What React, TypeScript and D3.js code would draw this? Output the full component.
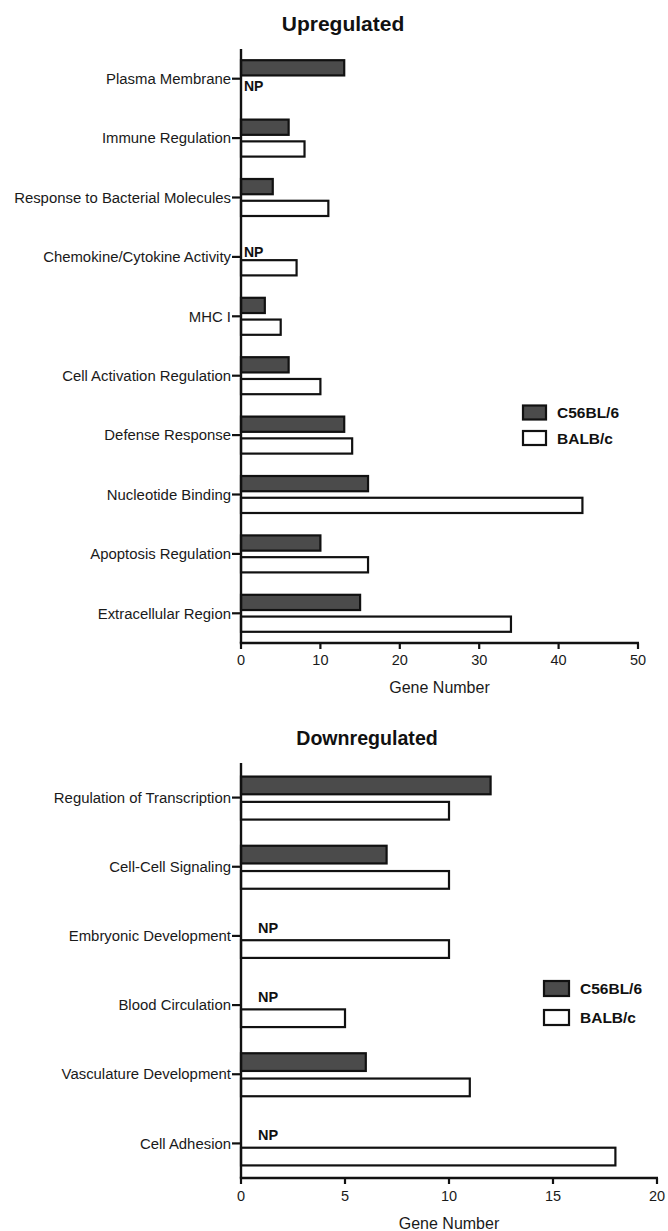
import React from "react";
import * as d3 from "d3";

// ---------- data ----------
const series = ["C56BL/6", "BALB/c"];

const upCategories = [
  "Plasma Membrane",
  "Immune Regulation",
  "Response to Bacterial Molecules",
  "Chemokine/Cytokine Activity",
  "MHC I",
  "Cell Activation Regulation",
  "Defense Response",
  "Nucleotide Binding",
  "Apoptosis Regulation",
  "Extracellular Region",
];
const upC56: (number | null)[] = [13, 6, 4, null, 3, 6, 13, 16, 10, 15];
const upBALB: (number | null)[] = [null, 8, 11, 7, 5, 10, 14, 43, 16, 34];
const upTicks = [0, 10, 20, 30, 40, 50];

const downCategories = [
  "Regulation of Transcription",
  "Cell-Cell Signaling",
  "Embryonic Development",
  "Blood Circulation",
  "Vasculature Development",
  "Cell Adhesion",
];
const downC56: (number | null)[] = [12, 7, null, null, 6, null];
const downBALB: (number | null)[] = [10, 10, 10, 5, 11, 18];
const downTicks = [0, 5, 10, 15, 20];

// ---------- styles ----------
const FONT = "'Liberation Sans', Arial, Helvetica, sans-serif";
const DARK = "#4b4b4b";
const INK = "#111";

type PanelProps = {
  title: string;
  titleX: number;
  titleY: number;
  titleSize: number;
  categories: string[];
  c56: (number | null)[];
  balb: (number | null)[];
  ticks: number[];
  left: number;
  right: number;
  top: number;
  bottom: number;
  subRange: [number, number];
  npOffsets: { dark: [number, number]; white: [number, number] };
  npSize: number;
  legend: { x: number; y: number; w: number; h: number; gap: number; textX: number };
  tickLabelY: number;
  axisTitleY: number;
};

function Panel(p: PanelProps) {
  const x = d3
    .scaleLinear()
    .domain([p.ticks[0], p.ticks[p.ticks.length - 1]])
    .range([p.left, p.right]);
  const y = d3.scaleBand<string>().domain(p.categories).range([p.top, p.bottom]).padding(0);
  const sub = d3.scaleBand<string>().domain(series).range(p.subRange).paddingInner(0.3).paddingOuter(0);
  const values = [p.c56, p.balb];

  return (
    <g>
      <text
        x={p.titleX}
        y={p.titleY}
        textAnchor="middle"
        fontFamily={FONT}
        fontWeight="bold"
        fontSize={p.titleSize}
        fill={INK}
      >
        {p.title}
      </text>

      {/* bars */}
      {p.categories.map((cat, i) => {
        const cy = (y(cat) as number) + y.bandwidth() / 2;
        return (
          <g key={cat}>
            {series.map((s, si) => {
              const v = values[si][i];
              const by = cy + (sub(s) as number);
              if (v == null) {
                const off = si === 0 ? p.npOffsets.dark : p.npOffsets.white;
                return (
                  <text
                    key={s}
                    x={x(0) + off[0]}
                    y={cy + off[1]}
                    fontFamily={FONT}
                    fontWeight="bold"
                    fontSize={p.npSize}
                    fill={INK}
                  >
                    NP
                  </text>
                );
              }
              return (
                <rect
                  key={s}
                  x={x(0)}
                  y={by}
                  width={x(v) - x(0)}
                  height={sub.bandwidth()}
                  fill={si === 0 ? DARK : "#fff"}
                  stroke={INK}
                  strokeWidth={2.2}
                />
              );
            })}
            {/* y tick */}
            <line x1={x(0) - 9} x2={x(0)} y1={cy} y2={cy} stroke={INK} strokeWidth={2.2} />
            <text
              x={x(0) - 10}
              y={cy}
              dy="0.35em"
              textAnchor="end"
              fontFamily={FONT}
              fontSize={14.9}
              fill="#1a1a1a"
            >
              {cat}
            </text>
          </g>
        );
      })}

      {/* axes */}
      <line x1={x(0)} x2={x(0)} y1={p.top} y2={p.bottom} stroke={INK} strokeWidth={2.4} />
      <line x1={x(0) - 1.2} x2={p.right + 1} y1={p.bottom} y2={p.bottom} stroke={INK} strokeWidth={2.4} />
      {p.ticks.map((t) => (
        <g key={t}>
          <line x1={x(t)} x2={x(t)} y1={p.bottom} y2={p.bottom + 6} stroke={INK} strokeWidth={2.2} />
          <text
            x={x(t)}
            y={p.tickLabelY}
            textAnchor="middle"
            fontFamily={FONT}
            fontSize={14.5}
            fill="#1a1a1a"
          >
            {t}
          </text>
        </g>
      ))}
      <text
        x={(p.left + p.right) / 2}
        y={p.axisTitleY}
        textAnchor="middle"
        fontFamily={FONT}
        fontSize={16}
        fill="#1a1a1a"
      >
        Gene Number
      </text>

      {/* legend */}
      {series.map((s, si) => (
        <g key={s}>
          <rect
            x={p.legend.x}
            y={p.legend.y + si * p.legend.gap}
            width={p.legend.w}
            height={p.legend.h}
            fill={si === 0 ? DARK : "#fff"}
            stroke={INK}
            strokeWidth={2.2}
          />
          <text
            x={p.legend.textX}
            y={p.legend.y + si * p.legend.gap + p.legend.h / 2}
            dy="0.36em"
            fontFamily={FONT}
            fontWeight="bold"
            fontSize={15.5}
            fill={INK}
          >
            {s}
          </text>
        </g>
      ))}
    </g>
  );
}

export default function App() {
  return (
    <svg
      width={668}
      height={1231}
      style={{ position: "absolute", left: 0, top: 0, display: "block", background: "#fff" }}
    >
      <rect width={668} height={1231} fill="#fff" />
      <Panel
        title="Upregulated"
        titleX={343}
        titleY={31}
        titleSize={21}
        categories={upCategories}
        c56={upC56}
        balb={upBALB}
        ticks={upTicks}
        left={241}
        right={638}
        top={49}
        bottom={643}
        subRange={[-18.5, 18.5]}
        npOffsets={{ dark: [3, 0], white: [3, 12] }}
        npSize={14}
        legend={{ x: 523, y: 405.5, w: 23, h: 14, gap: 25.5, textX: 557 }}
        tickLabelY={665}
        axisTitleY={693}
      />
      <Panel
        title="Downregulated"
        titleX={367}
        titleY={745}
        titleSize={19.6}
        categories={downCategories}
        c56={downC56}
        balb={downBALB}
        ticks={downTicks}
        left={241}
        right={657}
        top={763}
        bottom={1178}
        subRange={[-21, 22]}
        npOffsets={{ dark: [17, -3], white: [17, 12] }}
        npSize={14.5}
        legend={{ x: 544, y: 981, w: 25, h: 15, gap: 29, textX: 580 }}
        tickLabelY={1201}
        axisTitleY={1229}
      />
    </svg>
  );
}
